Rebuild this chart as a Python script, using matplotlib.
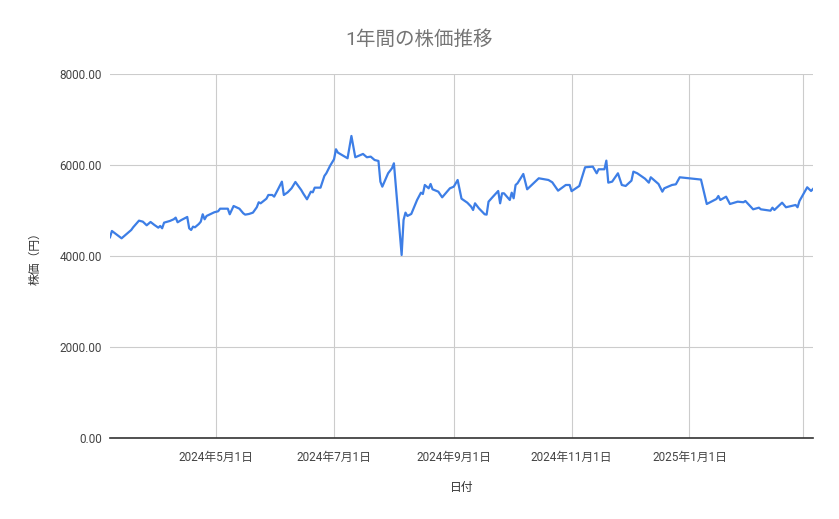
import matplotlib
matplotlib.use("Agg")
import matplotlib.pyplot as plt
import pandas as pd

plt.rcParams['font.family'] = ['Roboto', 'Noto Sans CJK JP', 'DejaVu Sans']

title = "1年間の株価推移"
x_label = "日付"
y_label = "株価（円）"

dates = [
    "2024-03-07", "2024-03-08", "2024-03-13", "2024-03-18", "2024-03-19", "2024-03-22",
    "2024-03-24", "2024-03-26", "2024-03-28", "2024-03-30", "2024-04-01", "2024-04-02",
    "2024-04-03", "2024-04-04", "2024-04-07", "2024-04-09", "2024-04-10", "2024-04-11",
    "2024-04-13", "2024-04-16", "2024-04-17", "2024-04-18", "2024-04-19", "2024-04-20",
    "2024-04-22", "2024-04-23", "2024-04-24", "2024-04-25", "2024-04-26", "2024-04-30",
    "2024-05-02", "2024-05-03", "2024-05-07", "2024-05-08", "2024-05-10", "2024-05-13",
    "2024-05-15", "2024-05-16", "2024-05-18", "2024-05-20", "2024-05-22", "2024-05-23",
    "2024-05-24", "2024-05-27", "2024-05-28", "2024-05-30", "2024-05-31", "2024-06-02",
    "2024-06-04", "2024-06-05", "2024-06-07", "2024-06-09", "2024-06-11", "2024-06-14",
    "2024-06-15", "2024-06-17", "2024-06-19", "2024-06-20", "2024-06-21", "2024-06-24",
    "2024-06-26", "2024-06-27", "2024-06-29", "2024-07-01", "2024-07-02", "2024-07-03",
    "2024-07-08", "2024-07-10", "2024-07-12", "2024-07-16", "2024-07-18", "2024-07-20",
    "2024-07-22", "2024-07-24", "2024-07-25", "2024-07-26", "2024-07-29", "2024-07-31",
    "2024-08-01", "2024-08-05", "2024-08-06", "2024-08-07", "2024-08-08", "2024-08-10",
    "2024-08-13", "2024-08-15", "2024-08-16", "2024-08-17", "2024-08-19", "2024-08-20",
    "2024-08-21", "2024-08-24", "2024-08-26", "2024-08-30", "2024-09-01", "2024-09-03",
    "2024-09-05", "2024-09-08", "2024-09-10", "2024-09-11", "2024-09-12", "2024-09-14",
    "2024-09-17", "2024-09-18", "2024-09-19", "2024-09-21", "2024-09-24", "2024-09-25",
    "2024-09-26", "2024-09-27", "2024-09-30", "2024-10-01", "2024-10-02", "2024-10-03",
    "2024-10-04", "2024-10-07", "2024-10-09", "2024-10-15", "2024-10-20", "2024-10-22",
    "2024-10-25", "2024-10-29", "2024-10-31", "2024-11-01", "2024-11-05", "2024-11-08",
    "2024-11-12", "2024-11-14", "2024-11-15", "2024-11-18", "2024-11-19", "2024-11-20",
    "2024-11-22", "2024-11-25", "2024-11-27", "2024-11-29", "2024-12-02", "2024-12-03",
    "2024-12-05", "2024-12-07", "2024-12-09", "2024-12-11", "2024-12-12", "2024-12-16",
    "2024-12-18", "2024-12-19", "2024-12-23", "2024-12-25", "2024-12-27", "2025-01-07",
    "2025-01-10", "2025-01-15", "2025-01-16", "2025-01-17", "2025-01-20", "2025-01-22",
    "2025-01-26", "2025-01-29", "2025-01-30", "2025-02-03", "2025-02-06", "2025-02-07",
    "2025-02-12", "2025-02-13", "2025-02-14", "2025-02-18", "2025-02-20", "2025-02-25",
    "2025-02-26", "2025-02-27", "2025-03-03", "2025-03-05", "2025-03-06",
]

prices = [
    4411, 4550, 4389, 4572, 4631, 4777,
    4755, 4675, 4748, 4682, 4623, 4660,
    4609, 4733, 4770, 4807, 4843, 4741,
    4792, 4858, 4609, 4572, 4645, 4631,
    4704, 4755, 4917, 4807, 4880, 4961,
    4983, 5040, 5040, 4917, 5099, 5040,
    4939, 4909, 4924, 4953, 5071, 5181,
    5158, 5260, 5341, 5341, 5304, 5466,
    5634, 5341, 5400, 5488, 5627, 5451,
    5378, 5246, 5414, 5400, 5502, 5502,
    5759, 5818, 5986, 6126, 6346, 6272,
    6148, 6638, 6170, 6243, 6170, 6184,
    6110, 6089, 5634, 5524, 5818, 5928,
    6038, 4022, 4792, 4953, 4880, 4924,
    5231, 5392, 5363, 5561, 5488, 5583,
    5466, 5414, 5290, 5488, 5524, 5671,
    5260, 5172, 5084, 5011, 5158, 5048,
    4917, 4909, 5194, 5290, 5429, 5158,
    5378, 5378, 5231, 5392, 5268, 5561,
    5598, 5803, 5466, 5708, 5671, 5620,
    5436, 5561, 5561, 5425, 5539, 5950,
    5964, 5818, 5906, 5906, 6096, 5612,
    5634, 5818, 5561, 5539, 5656, 5854,
    5818, 5759, 5700, 5612, 5730, 5583,
    5414, 5488, 5561, 5576, 5730, 5680,
    5143, 5253, 5319, 5231, 5304, 5143,
    5194, 5181, 5209, 5026, 5062, 5026,
    4996, 5062, 5011, 5172, 5071, 5121,
    5071, 5209, 5510, 5429, 5473,
]

grid_dates = ["2024-05-01", "2024-07-01", "2024-09-01", "2024-11-01", "2025-01-01", "2025-03-01"]
labeled_dates = ["2024-05-01", "2024-07-01", "2024-09-01", "2024-11-01", "2025-01-01"]
y_ticks = [0, 2000, 4000, 6000, 8000]

x = pd.to_datetime(dates)
gx = pd.to_datetime(grid_dates)

fig = plt.figure(figsize=(8.39, 5.19), dpi=100)
ax = fig.add_axes([110 / 839, 1 - 438 / 519, (813 - 110) / 839, (438 - 74) / 519])

ax.plot(x, prices, color="#3d7ee6", linewidth=1.6, zorder=3)

ax.set_ylim(y_ticks[0], y_ticks[-1])
ax.set_xlim(x.min(), x.max())
ax.set_yticks(y_ticks)
ax.set_yticklabels([f"{v:.2f}" for v in y_ticks])

ax.set_xticks(gx)
ax.set_xticklabels([f"{d.year}年{d.month}月{d.day}日" if d.strftime("%Y-%m-%d") in labeled_dates else ""
                    for d in gx])

ax.grid(True, color="#cccccc", linewidth=0.8, zorder=0)
for s in ["top", "right", "left"]:
    ax.spines[s].set_visible(False)
ax.spines["bottom"].set_color("#333333")
ax.spines["bottom"].set_linewidth(1.2)
ax.spines["bottom"].set_zorder(4)
ax.tick_params(axis="both", length=0, labelsize=8.5, colors="#444444")
ax.tick_params(axis="x", pad=9)
ax.tick_params(axis="y", pad=6)

fig.text(0.5, 1 - 40 / 519, title, ha="center", va="center", fontsize=14, color="#757575")
fig.text((110 + 813) / 2 / 839, 1 - 487 / 519, x_label, ha="center", va="center", fontsize=8.5, color="#333333")
fig.text(35 / 839, 1 - 256 / 519, y_label, ha="center", va="center", rotation=90, fontsize=8.5, color="#333333")

fig.savefig("out.png", dpi=100)
